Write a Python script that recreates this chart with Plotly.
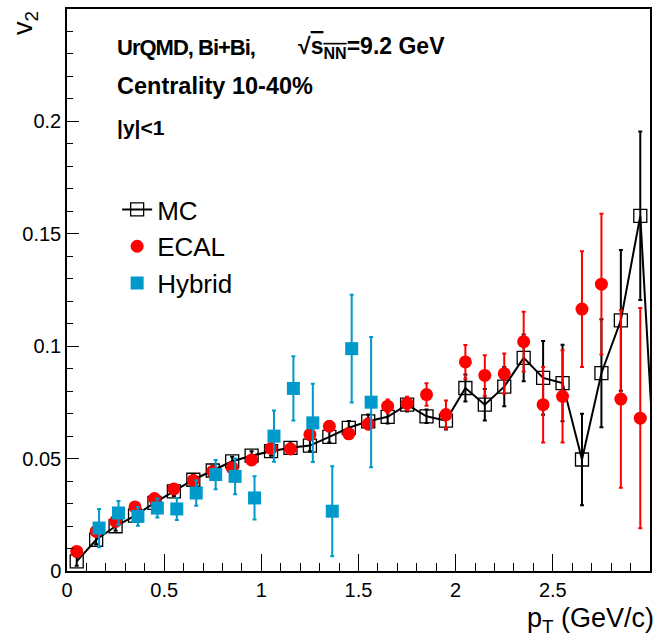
import plotly.graph_objects as go

# ---------------- data ----------------
pt_mc = [0.05, 0.15, 0.25, 0.35, 0.45, 0.55, 0.65, 0.75, 0.85, 0.95,
         1.05, 1.15, 1.25, 1.35, 1.45, 1.55, 1.65, 1.75, 1.85, 1.95,
         2.05, 2.15, 2.25, 2.35, 2.45, 2.55, 2.65, 2.75, 2.85, 2.95, 3.05]
v2_mc = [0.0043, 0.0139, 0.0199, 0.0246, 0.0303, 0.0354, 0.0406, 0.0447, 0.0488, 0.0513,
         0.0533, 0.0548, 0.0558, 0.0597, 0.0637, 0.0666, 0.0686, 0.0740, 0.0688, 0.0669,
         0.0814, 0.0740, 0.0820, 0.0948, 0.0859, 0.0836, 0.0496, 0.0880, 0.1115, 0.1580, 0.0060]
err_mc = [0.002, 0.002, 0.002, 0.002, 0.002, 0.002, 0.002, 0.002, 0.002, 0.002,
          0.002, 0.002, 0.0025, 0.0025, 0.003, 0.003, 0.003, 0.003, 0.003, 0.004,
          0.006, 0.007, 0.0087, 0.0104, 0.0164, 0.017, 0.0204, 0.024, 0.0313, 0.0375, 0.04]

pt_ecal = [0.05, 0.15, 0.25, 0.35, 0.45, 0.55, 0.65, 0.75, 0.85, 0.95,
           1.05, 1.15, 1.25, 1.35, 1.45, 1.55, 1.65, 1.75, 1.85, 1.95,
           2.05, 2.15, 2.25, 2.35, 2.45, 2.55, 2.65, 2.75, 2.85, 2.95]
v2_ecal = [0.0087, 0.0176, 0.0221, 0.0285, 0.0322, 0.0365, 0.0403, 0.0443, 0.0459, 0.0494,
           0.0545, 0.0543, 0.0607, 0.0644, 0.0610, 0.0654, 0.0733, 0.0745, 0.0785, 0.0696,
           0.0930, 0.0870, 0.0878, 0.1020, 0.0740, 0.0777, 0.1165, 0.1276, 0.0765, 0.0680]
err_ecal = [0.001, 0.001, 0.001, 0.001, 0.001, 0.001, 0.001, 0.001, 0.0015, 0.0015,
            0.0015, 0.0015, 0.002, 0.002, 0.002, 0.0025, 0.003, 0.003, 0.005, 0.0063,
            0.0075, 0.009, 0.009, 0.0133, 0.0168, 0.0205, 0.0257, 0.0313, 0.0395, 0.049]

pt_hyb = [0.165, 0.265, 0.365, 0.465, 0.565, 0.665, 0.765, 0.865, 0.965,
          1.065, 1.165, 1.265, 1.365, 1.465, 1.565]
v2_hyb = [0.0191, 0.0258, 0.0243, 0.0280, 0.0276, 0.0347, 0.0429, 0.0421, 0.0325,
          0.0600, 0.0812, 0.0659, 0.0266, 0.0989, 0.0751]
err_hyb = [0.0085, 0.0053, 0.0042, 0.0042, 0.0049, 0.0057, 0.0065, 0.008, 0.0096,
           0.0114, 0.0143, 0.0174, 0.020, 0.024, 0.029]

x_ticks = [0, 0.5, 1, 1.5, 2, 2.5, 3]
x_tick_labels = ["0", "0.5", "1", "1.5", "2", "2.5", "3"]
y_ticks = [0, 0.05, 0.1, 0.15, 0.2]
y_tick_labels = ["0", "0.05", "0.1", "0.15", "0.2"]

FONT = "Liberation Sans, Arial, Helvetica, sans-serif"
RED = "#ff0000"
BLUE = "#0099cc"

fig = go.Figure()

fig.add_trace(go.Scatter(
    x=pt_mc, y=v2_mc, name="MC", mode="lines+markers", legendgroup="a",
    line=dict(color="black", width=2),
    marker=dict(symbol="square-open", size=13, color="black", line=dict(width=1.3)),
    error_y=dict(type="data", array=err_mc, color="black", thickness=2, width=2),
))
fig.add_trace(go.Scatter(
    x=pt_ecal, y=v2_ecal, name="ECAL", mode="markers", legendgroup="b",
    marker=dict(symbol="circle", size=13, color=RED),
    error_y=dict(type="data", array=err_ecal, color=RED, thickness=2, width=2),
))
fig.add_trace(go.Scatter(
    x=pt_hyb, y=v2_hyb, name="Hybrid", mode="markers", legendgroup="c",
    marker=dict(symbol="square", size=13, color=BLUE),
    error_y=dict(type="data", array=err_hyb, color=BLUE, thickness=2, width=2),
))

fig.update_layout(
    width=654, height=639,
    margin=dict(l=67, r=2, t=9, b=68),
    paper_bgcolor="white", plot_bgcolor="white",
    font=dict(family=FONT, color="black", size=20),
    showlegend=True,
    legend=dict(x=0.086, y=0.685, xanchor="left", yanchor="top",
                font=dict(size=26, family=FONT), bgcolor="rgba(0,0,0,0)",
                traceorder="grouped", tracegroupgap=0, itemwidth=30),
    xaxis=dict(range=[0, 3], tickvals=x_ticks, ticktext=x_tick_labels,
               ticks="inside", ticklen=17, tickwidth=1, tickcolor="black",
               minor=dict(ticks="inside", dtick=0.1, ticklen=8, tickwidth=1, tickcolor="black"),
               showline=True, linecolor="black", linewidth=1.5, mirror=True,
               showgrid=False, zeroline=False, tickfont=dict(size=20)),
    yaxis=dict(range=[0, 0.25], tickvals=y_ticks, ticktext=y_tick_labels,
               ticks="inside", ticklen=12, tickwidth=1, tickcolor="black",
               minor=dict(ticks="inside", dtick=0.01, ticklen=6, tickwidth=1, tickcolor="black"),
               showline=True, linecolor="black", linewidth=1.5, mirror=True,
               showgrid=False, zeroline=False, tickfont=dict(size=20)),
)

ann = [
    dict(text="<b><span style='letter-spacing:-1px'>UrQMD, Bi+Bi,</span></b>", x=0.082, y=0.932, size=22),
    dict(text="<b>Centrality 10-40%</b>", x=0.082, y=0.863, size=23.5),
    dict(text="<b>|y|<1</b>", x=0.082, y=0.79, size=21),
]
for a in ann:
    fig.add_annotation(text=a["text"], x=a["x"], y=a["y"], xref="paper", yref="paper",
                       xanchor="left", yanchor="middle", showarrow=False,
                       font=dict(size=a["size"], family=FONT))
fig.add_annotation(text="<b>√<span style='text-decoration:overline'>s<sub>NN</sub></span>=9.2 GeV</b>",
                   x=0.393, y=0.932, xref="paper", yref="paper", xanchor="left", yanchor="middle",
                   showarrow=False, font=dict(size=23, family=FONT))
fig.add_annotation(text="v<sub>2</sub>", x=-0.072, y=0.975, xref="paper", yref="paper",
                   textangle=-90, xanchor="center", yanchor="middle", showarrow=False,
                   font=dict(size=27, family=FONT))
fig.add_annotation(text="p<sub>T</sub> (GeV/c)", x=1.01, y=-0.087, xref="paper", yref="paper",
                   xanchor="right", yanchor="middle", showarrow=False,
                   font=dict(size=27, family=FONT))

fig.write_html("out.html")
